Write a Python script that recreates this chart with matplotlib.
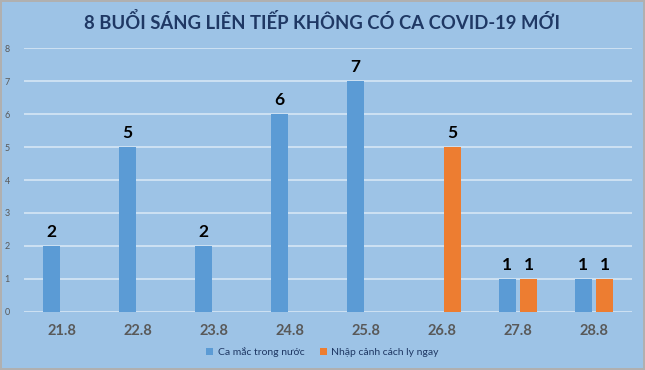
import numpy as np
import matplotlib.pyplot as plt

# chart data
days = ["21.8", "22.8", "23.8", "24.8", "25.8", "26.8", "27.8", "28.8"]
domestic = [2, 5, 2, 6, 7, 0, 1, 1]
imported = [0, 0, 0, 0, 0, 5, 1, 1]
series_names = ["Ca mắc trong nước", "Nhập cảnh cách ly ngay"]

bg = "#9dc3e6"
blue = "#5b9bd5"
orange = "#ed7d31"

plt.rcParams['font.family'] = ['Lato', 'DejaVu Sans']

fig = plt.figure(figsize=(6.45, 3.70), dpi=100)
fig.patch.set_facecolor(bg)
fig.patch.set_edgecolor("#b0b0b0")
fig.patch.set_linewidth(1.5)

ax = fig.add_axes([0.037, 0.157, 0.943, 0.713])
ax.set_facecolor(bg)

x = np.arange(len(days))
w = 0.22
off = 0.14
b1 = ax.bar(x - off, domestic, w, color=blue, label=series_names[0], zorder=3)
b2 = ax.bar(x + off, imported, w, color=orange, label=series_names[1], zorder=3)

for bars, vals in [(b1, domestic), (b2, imported)]:
    for rect, v in zip(bars, vals):
        if v > 0:
            ax.text(rect.get_x() + rect.get_width() / 2, v + 0.18, str(v),
                    ha='center', va='bottom', fontsize=12.5, fontweight='bold',
                    color='black')

ax.set_xlim(-0.5, len(days) - 0.5)
ax.set_ylim(0, 8)
ax.set_yticks(range(0, 9))
ax.set_xticks(x)
ax.set_xticklabels(days, fontsize=10.5, fontweight='bold', color='#595959')
ax.tick_params(axis='y', labelsize=6.5, labelcolor='#595959', length=0, pad=10)
ax.tick_params(axis='x', length=0, pad=9)
ax.grid(axis='y', color='#d6e6f5', linewidth=1.2, zorder=0)
for s in ax.spines.values():
    s.set_visible(False)

fig.text(0.5, 0.94, "8 BUỔI SÁNG LIÊN TIẾP KHÔNG CÓ CA COVID-19 MỚI",
         ha='center', va='center', fontsize=13.3, fontweight='bold',
         color='#1f3864')

leg = fig.legend(handles=[b1, b2], loc='center', bbox_to_anchor=(0.5, 0.048),
                 ncol=2, frameon=False, fontsize=7.5, handlelength=0.7,
                 handleheight=0.7, handletextpad=0.4, columnspacing=1.5)
for t in leg.get_texts():
    t.set_color('#1f3864')

plt.savefig("out.png", dpi=100, facecolor=fig.get_facecolor(),
            edgecolor=fig.get_edgecolor())
